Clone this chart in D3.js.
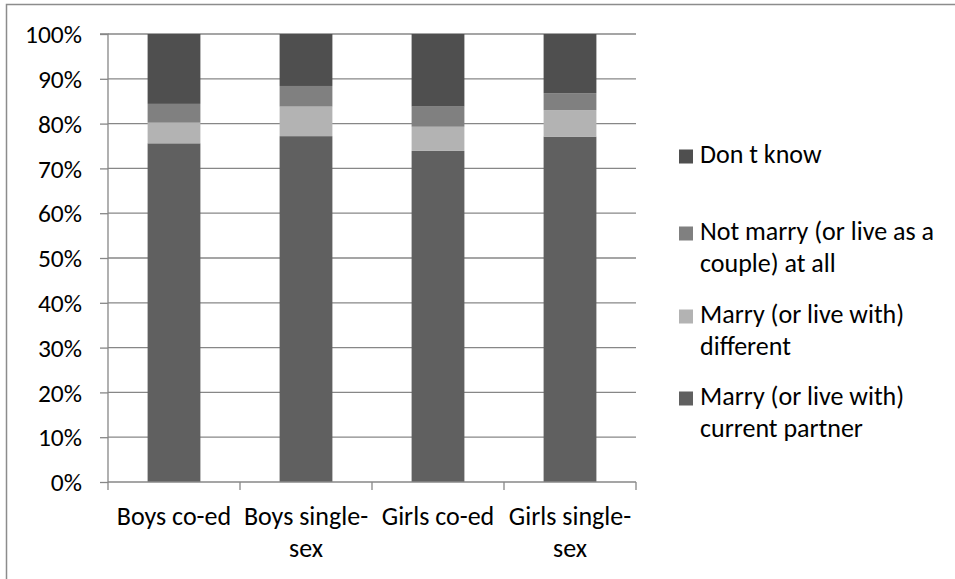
<!DOCTYPE html>
<html>
<head>
<meta charset="utf-8">
<script src="https://cdn.jsdelivr.net/npm/d3@7"></script>
<style>
  html, body { margin: 0; padding: 0; background: #fff; }
  svg { display: block; }
  text { font-family: Carlito, "Open Sans", "Noto Sans", sans-serif; fill: #000; }
</style>
</head>
<body>
<svg id="chart" width="955" height="579"></svg>
<script>
// Schools, each split into four answer groups (percent of pupils)
const categories = [["Boys co-ed"], ["Boys single-", "sex"], ["Girls co-ed"], ["Girls single-", "sex"]];
const currentPartner = [75.6, 77.2, 73.9, 77.1];
const differentPartner = [4.6, 6.6, 5.4, 5.9];
const notMarry = [4.2, 4.6, 4.5, 3.8];
const dontKnow = [15.6, 11.6, 16.2, 13.2];
const seriesNames = ["Marry (or live with) current partner", "Marry (or live with) different", "Not marry (or live as a couple) at all", "Don t know"];
const seriesColors = ["#606060", "#b3b3b3", "#808080", "#4f4f4f"];
const legendLines = [["Don t know"], ["Not marry (or live as a", "couple) at all"], ["Marry (or live with)", "different"], ["Marry (or live with)", "current partner"]];
const yTicks = [0, 10, 20, 30, 40, 50, 60, 70, 80, 90, 100];

const svg = d3.select("#chart");
const gridColor = "#878787";

// chart frame
svg.append("path")
  .attr("d", "M6.5,579 L6.5,4.5 L955,4.5")
  .attr("fill", "none").attr("stroke", "#8c8c8c").attr("stroke-width", 1.5);

const plotLeft = 108, plotRight = 636, plotTop = 34, plotBottom = 482;
const x = d3.scaleBand().domain(d3.range(categories.length)).range([plotLeft, plotRight]).paddingInner(0.6).paddingOuter(0.3);
const xBand = d3.scaleBand().domain(d3.range(categories.length)).range([plotLeft, plotRight]);
const y = d3.scaleLinear().domain([0, 100]).range([plotBottom, plotTop]);

// horizontal gridlines
svg.append("g").selectAll("line").data(yTicks.slice(1)).join("line")
  .attr("x1", plotLeft).attr("x2", plotRight)
  .attr("y1", d => y(d)).attr("y2", d => y(d))
  .attr("stroke", gridColor).attr("stroke-width", 1.3);

// stacked bars
const rows = categories.map((c, i) => ({ i, s0: currentPartner[i], s1: differentPartner[i], s2: notMarry[i], s3: dontKnow[i] }));
const stack = d3.stack().keys(["s0", "s1", "s2", "s3"])(rows);
svg.append("g").selectAll("g").data(stack).join("g")
  .attr("fill", (d, k) => seriesColors[k])
  .selectAll("rect").data(d => d).join("rect")
  .attr("x", d => x(d.data.i))
  .attr("width", x.bandwidth())
  .attr("y", d => y(d[1]))
  .attr("height", d => y(d[0]) - y(d[1]));

// y axis
const yAxis = svg.append("g").attr("transform", `translate(${plotLeft},0)`)
  .call(d3.axisLeft(y).tickValues(yTicks).tickFormat(d => d + "%").tickSize(8).tickPadding(18));
yAxis.select(".domain").attr("stroke", gridColor).attr("stroke-width", 1.3).attr("d", `M-8,${plotTop}H0V${plotBottom}`);
yAxis.selectAll(".tick line").attr("stroke", gridColor).attr("stroke-width", 1.3);
yAxis.selectAll(".tick text").attr("font-size", 25.5).attr("font-family", null).attr("fill", "#000").attr("dy", "0.34em");

// x axis with ticks at band edges
const xAxisG = svg.append("g").attr("transform", `translate(0,${plotBottom})`);
xAxisG.append("line").attr("x1", plotLeft).attr("x2", plotRight).attr("stroke", gridColor).attr("stroke-width", 1.3);
xAxisG.selectAll(".edge").data(d3.range(categories.length + 1)).join("line")
  .attr("class", "edge")
  .attr("x1", i => i < categories.length ? xBand(i) : plotRight)
  .attr("x2", i => i < categories.length ? xBand(i) : plotRight)
  .attr("y1", 0).attr("y2", 8)
  .attr("stroke", gridColor).attr("stroke-width", 1.3);
xAxisG.selectAll(".lab").data(categories).join("text")
  .attr("class", "lab")
  .attr("text-anchor", "middle")
  .attr("font-size", 26)
  .each(function (lines, i) {
    d3.select(this).selectAll("tspan").data(lines).join("tspan")
      .attr("x", xBand(i) + xBand.bandwidth() / 2)
      .attr("y", (d, j) => 43 + j * 32)
      .text(d => d);
  });

// legend
const legendY = [155, 232, 315, 397];
const legend = svg.append("g");
legendLines.forEach((lines, k) => {
  const color = seriesColors[3 - k];
  legend.append("rect").attr("x", 679).attr("y", legendY[k] - 5.5).attr("width", 14).attr("height", 14).attr("fill", color);
  const t = legend.append("text").attr("font-size", 26);
  t.selectAll("tspan").data(lines).join("tspan")
    .attr("x", 700).attr("y", (d, j) => legendY[k] + 8 + j * 32).text(d => d);
});
</script>
</body>
</html>
